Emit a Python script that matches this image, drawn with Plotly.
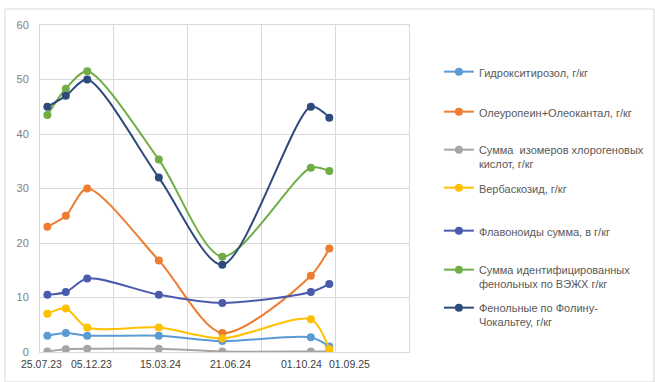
import plotly.graph_objects as go

# Sampling dates (the second sample has no date label on the axis)
dates = ["25.07.23", "", "05.12.23", "15.03.24", "21.06.24", "01.10.24", "01.09.25"]
# Position of each sample along the horizontal axis
x_pos = [0.1, 0.35, 0.64, 1.61, 2.47, 3.67, 3.92]

hydroxytyrosol = [3.0, 3.5, 3.0, 3.0, 2.0, 2.7, 1.0]
oleuropein_oleocanthal = [23.0, 25.0, 30.0, 16.8, 3.5, 14.0, 19.0]
chlorogenic_isomers = [0.1, 0.5, 0.6, 0.6, 0.1, 0.1, 0.1]
verbascoside = [7.0, 8.0, 4.5, 4.5, 2.5, 6.0, 0.5]
flavonoids = [10.5, 11.0, 13.5, 10.5, 9.0, 11.0, 12.5]
hplc_phenolics = [43.5, 48.3, 51.5, 35.3, 17.5, 33.8, 33.2]
folin_phenolics = [45.0, 47.0, 50.0, 32.0, 16.0, 45.0, 43.0]

series = [
    ("Гидрокситирозол, г/кг", hydroxytyrosol, "#5B9BD5"),
    ("Олеуропеин+Олеокантал, г/кг", oleuropein_oleocanthal, "#ED7D31"),
    ("Сумма  изомеров хлорогеновых<br>кислот, г/кг", chlorogenic_isomers, "#A5A5A5"),
    ("Вербаскозид, г/кг", verbascoside, "#FFC000"),
    ("Флавоноиды сумма, в г/кг", flavonoids, "#4A5BAE"),
    ("Сумма идентифицированных<br>фенольных по ВЭЖХ г/кг", hplc_phenolics, "#70AD47"),
    ("Фенольные по Фолину-<br>Чокальтеу, г/кг", folin_phenolics, "#2D4A7C"),
]

# Vertical placement (pixels from top of page) of each legend entry's first line
legend_rows_px = [72, 112, 150, 188, 231, 270, 308]
plot_top, plot_h = 25, 327

fig = go.Figure()
legend_layouts = {}
for i, (name, vals, color) in enumerate(series):
    key = "legend" if i == 0 else f"legend{i + 1}"
    fig.add_trace(go.Scatter(
        x=x_pos, y=vals, name=name, mode="lines+markers",
        line=dict(color=color, width=2, shape="spline", smoothing=0.8),
        marker=dict(color=color, size=8),
        legend=key,
    ))
    legend_layouts[key] = dict(
        x=1.081, y=1 - (legend_rows_px[i] - 14 - plot_top) / plot_h,
        xanchor="left", yanchor="top", valign="top",
        font=dict(family="Liberation Sans, Arial", size=11, color="#595959"),
        bgcolor="rgba(0,0,0,0)", itemwidth=30,
    )

# Date labels under the axis
anchors = ["center", "center", "center", "center", "center", "right", "left"]
shifts = [-6, 0, 4, 2, 8, 13, -2]
for xv, lab, anc, sh in zip(x_pos, dates, anchors, shifts):
    if lab:
        fig.add_annotation(x=xv, y=0, xref="x", yref="y", text=lab, showarrow=False,
                           xanchor=anc, yanchor="top", xshift=sh, yshift=-4,
                           font=dict(family="Liberation Sans, Arial", size=10.5, color="#404040"))

# Outer chart frame
fig.add_shape(type="rect", xref="paper", yref="paper",
              x0=-35 / 369, x1=614 / 369, y0=-30 / 327, y1=343 / 327,
              line=dict(color="#D9D9D9", width=1), fillcolor="rgba(0,0,0,0)", layer="below")

fig.update_layout(
    width=655, height=382,
    margin=dict(l=40, r=246, t=25, b=30, autoexpand=False),
    paper_bgcolor="white", plot_bgcolor="white",
    font=dict(family="Liberation Sans, Arial", color="#595959"),
    xaxis=dict(range=[0, 5], dtick=1, tick0=0, showticklabels=False,
               showgrid=True, gridcolor="#D9D9D9", gridwidth=1, zeroline=False,
               showline=True, linecolor="#D9D9D9", mirror=True, ticks=""),
    yaxis=dict(range=[0, 60], dtick=10, showgrid=True, gridcolor="#D9D9D9",
               zeroline=False, showline=True, linecolor="#D9D9D9", mirror=True,
               tickfont=dict(size=11, color="#808080"), ticks="", ticklabelstandoff=8),
    showlegend=True,
    **legend_layouts,
)

fig.write_html("out.html")
